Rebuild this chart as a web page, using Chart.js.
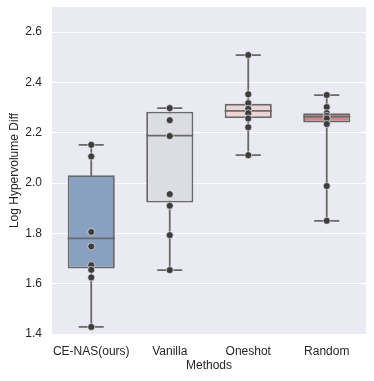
<!DOCTYPE html>
<html>
<head>
<meta charset="utf-8">
<script src="https://cdn.jsdelivr.net/npm/chart.js@4/dist/chart.umd.min.js"></script>
<style>
  body { margin: 0; background: #fff; }
</style>
</head>
<body>
<canvas id="myChart" width="374" height="381"></canvas>
<script>
const methods = ["CE-NAS(ours)", "Vanilla", "Oneshot", "Random"];
const boxColors = ["#8aa0c0", "#dcdde3", "#edd6d5", "#c48a8a"];

const q1 = [1.660, 1.923, 2.259, 2.241];
const medians = [1.780, 2.189, 2.287, 2.264];
const q3 = [2.031, 2.284, 2.315, 2.278];
const whiskerLow = [1.428, 1.654, 2.111, 1.850];
const whiskerHigh = [2.152, 2.298, 2.509, 2.350];

const cenasRuns = [2.152, 2.106, 1.806, 1.748, 1.674, 1.655, 1.625, 1.428];
const vanillaRuns = [2.298, 2.250, 2.187, 1.956, 1.910, 1.793, 1.654];
const oneshotRuns = [2.509, 2.353, 2.318, 2.295, 2.278, 2.257, 2.222, 2.111];
const randomRuns = [2.350, 2.302, 2.278, 2.267, 2.257, 2.235, 1.988, 1.850];

const yTicks = [1.4, 1.6, 1.8, 2.0, 2.2, 2.4, 2.6];

const lineGray = "#696969";
const textColor = "#262626";

let myChart;
document.addEventListener("DOMContentLoaded", () => {
  const ctx = document.getElementById("myChart").getContext("2d");

  const runs = [cenasRuns, vanillaRuns, oneshotRuns, randomRuns];
  const points = [];
  runs.forEach((vals, i) => {
    vals.forEach((v) => points.push({ x: methods[i], y: v }));
  });

  // panel background + whiskers behind, medians on top of boxes
  const boxExtras = {
    id: "boxExtras",
    beforeDraw(chart) {
      const { ctx, chartArea } = chart;
      ctx.save();
      ctx.fillStyle = "#eaeaf2";
      ctx.fillRect(chartArea.left, chartArea.top, chartArea.width, chartArea.height);
      ctx.restore();
    },
    beforeDatasetsDraw(chart) {
      const { ctx, scales } = chart;
      const x = scales.x, y = scales.y;
      const step = x.getPixelForValue(1) - x.getPixelForValue(0);
      const cap = step * 0.16;
      ctx.save();
      ctx.strokeStyle = lineGray;
      ctx.lineWidth = 1.8;
      methods.forEach((m, i) => {
        const cx = x.getPixelForValue(i);
        const lo = y.getPixelForValue(whiskerLow[i]);
        const hi = y.getPixelForValue(whiskerHigh[i]);
        ctx.beginPath();
        ctx.moveTo(cx, lo);
        ctx.lineTo(cx, hi);
        ctx.moveTo(cx - cap, lo);
        ctx.lineTo(cx + cap, lo);
        ctx.moveTo(cx - cap, hi);
        ctx.lineTo(cx + cap, hi);
        ctx.stroke();
      });
      ctx.restore();
    },
    afterDatasetDraw(chart, args) {
      if (args.meta.type !== "bar") return;
      const { ctx, scales } = chart;
      const x = scales.x, y = scales.y;
      const step = x.getPixelForValue(1) - x.getPixelForValue(0);
      const half = step * 0.3;
      ctx.save();
      ctx.strokeStyle = lineGray;
      ctx.lineWidth = 1.8;
      methods.forEach((m, i) => {
        const cx = x.getPixelForValue(i);
        const my = y.getPixelForValue(medians[i]);
        ctx.beginPath();
        ctx.moveTo(cx - half, my);
        ctx.lineTo(cx + half, my);
        ctx.stroke();
      });
      ctx.restore();
    },
  };

  const config = {
    type: "bar",
    data: {
      labels: methods,
      datasets: [
        {
          type: "scatter",
          data: points,
          pointRadius: 3.5,
          pointHoverRadius: 3.5,
          backgroundColor: "#3d3d3d",
          borderColor: "#ffffff",
          borderWidth: 0.6,
          order: 0,
        },
        {
          type: "bar",
          data: methods.map((m, i) => [q1[i], q3[i]]),
          backgroundColor: boxColors,
          borderColor: lineGray,
          borderWidth: 1.8,
          borderSkipped: false,
          barPercentage: 0.6,
          categoryPercentage: 1,
          order: 1,
        },
      ],
    },
    options: {
      responsive: false,
      animation: false,
      devicePixelRatio: 1,
      layout: { padding: { top: 7, right: 8, left: 0, bottom: 0 } },
      plugins: {
        legend: { display: false },
        tooltip: { enabled: false },
      },
      scales: {
        x: {
          type: "category",
          offset: true,
          grid: { display: false },
          border: { display: false },
          ticks: {
            color: textColor,
            padding: 2,
            maxRotation: 0,
            autoSkip: false,
            font: { family: "Liberation Sans", size: 12 },
          },
          title: {
            display: true,
            text: "Methods",
            color: textColor,
            padding: { top: 0, bottom: 8 },
            font: { family: "Liberation Sans", size: 12 },
          },
          afterFit: (scale) => {
            scale.height = 47;
            scale.paddingLeft = 0;
            scale.paddingRight = 0;
          },
        },
        y: {
          type: "linear",
          min: 1.4,
          max: 2.7,
          grid: { color: "#ffffff", lineWidth: 1, drawTicks: false },
          border: { display: false },
          afterBuildTicks: (scale) => {
            scale.ticks = yTicks.map((v) => ({ value: v }));
          },
          ticks: {
            color: textColor,
            padding: 10,
            font: { family: "Liberation Sans", size: 12 },
            callback: (v) => Number(v).toFixed(1),
          },
          title: {
            display: true,
            text: "Log Hypervolume Diff",
            color: textColor,
            padding: { top: 7, bottom: 0 },
            font: { family: "Liberation Sans", size: 12 },
          },
          afterFit: (scale) => {
            scale.width = 52;
            scale.paddingTop = 0;
            scale.paddingBottom = 0;
          },
        },
      },
    },
    plugins: [boxExtras],
  };

  myChart = new Chart(ctx, config);
});
</script>
</body>
</html>
